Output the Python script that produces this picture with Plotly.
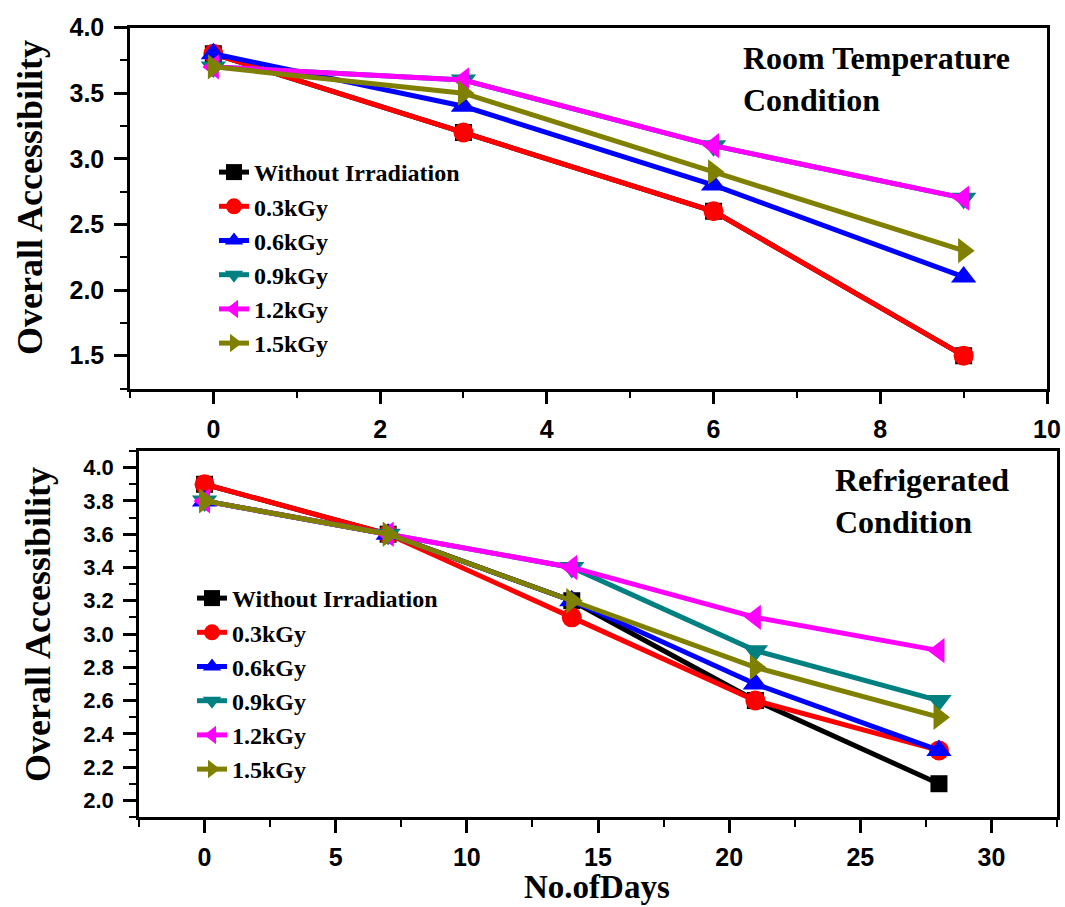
import plotly.graph_objects as go

# ---------------- data ----------------
series_names = ["Without Irradiation", "0.3kGy", "0.6kGy", "0.9kGy", "1.2kGy", "1.5kGy"]
series_colors = ["#000000", "#FF0000", "#0000FF", "#008080", "#FF00FF", "#808000"]
series_symbols = ["square", "circle", "triangle-up", "triangle-down", "triangle-left", "triangle-right"]

room_days = [0, 3, 6, 9]
room_without = [3.8, 3.2, 2.6, 1.5]
room_03 = [3.8, 3.2, 2.6, 1.5]
room_06 = [3.8, 3.4, 2.8, 2.1]
room_09 = [3.7, 3.6, 3.1, 2.7]
room_12 = [3.7, 3.6, 3.1, 2.7]
room_15 = [3.7, 3.5, 2.9, 2.3]

fridge_days = [0, 7, 14, 21, 28]
fridge_without = [3.9, 3.6, 3.2, 2.6, 2.1]
fridge_03 = [3.9, 3.6, 3.1, 2.6, 2.3]
fridge_06 = [3.8, 3.6, 3.2, 2.7, 2.3]
fridge_09 = [3.8, 3.6, 3.4, 2.9, 2.6]
fridge_12 = [3.8, 3.6, 3.4, 3.1, 2.9]
fridge_15 = [3.8, 3.6, 3.2, 2.8, 2.5]

room_values = [room_without, room_03, room_06, room_09, room_12, room_15]
fridge_values = [fridge_without, fridge_03, fridge_06, fridge_09, fridge_12, fridge_15]

# ---------------- figure ----------------
W, H = 1065, 907
SERIF = "Liberation Serif"
SANS = "Liberation Sans"

def px_x(p):
    return p / W

def px_y(p):
    return 1 - p / H

fig = go.Figure()

marker_sizes = [17, 20, 22, 22, 22, 22]

for i, name in enumerate(series_names):
    fig.add_trace(go.Scatter(
        x=room_days, y=room_values[i], name=name, mode="lines+markers",
        line=dict(color=series_colors[i], width=5),
        marker=dict(symbol=series_symbols[i], size=marker_sizes[i], color=series_colors[i]),
        xaxis="x", yaxis="y", legend="legend",
    ))
for i, name in enumerate(series_names):
    fig.add_trace(go.Scatter(
        x=fridge_days, y=fridge_values[i], name=name, mode="lines+markers",
        line=dict(color=series_colors[i], width=5),
        marker=dict(symbol=series_symbols[i], size=marker_sizes[i], color=series_colors[i]),
        xaxis="x2", yaxis="y2", legend="legend2",
    ))

common_axis = dict(
    showline=True, linecolor="black", linewidth=2.5, mirror=True,
    ticks="outside", ticklen=13, tickwidth=2.5, tickcolor="black",
    showgrid=False, zeroline=False,
)

fig.update_layout(
    width=W, height=H,
    paper_bgcolor="white", plot_bgcolor="white",
    margin=dict(l=0, r=0, t=0, b=0, autoexpand=False),
    showlegend=True,
    xaxis=dict(
        **common_axis, domain=[px_x(130), px_x(1047)], anchor="y",
        range=[-1, 10], tickmode="linear", tick0=0, dtick=2,
        minor=dict(ticks="outside", ticklen=7, tickwidth=2, tickcolor="black", dtick=1, tick0=0),
        tickfont=dict(family=SANS, size=25, color="black", weight="bold"),
        ticklabelstandoff=4,
    ),
    yaxis=dict(
        **common_axis, domain=[px_y(388.5), px_y(27.5)], anchor="x",
        range=[1.25, 4.0], tickmode="linear", tick0=1.5, dtick=0.5, tickformat=".1f",
        minor=dict(ticks="outside", ticklen=7, tickwidth=2, tickcolor="black", dtick=0.25, tick0=0),
        tickfont=dict(family=SANS, size=25, color="black", weight="bold"),
        ticklabelstandoff=5,
    ),
    xaxis2=dict(
        **common_axis, domain=[px_x(139), px_x(1057)], anchor="y2",
        range=[-2.5, 32.5], tickmode="linear", tick0=0, dtick=5,
        minor=dict(ticks="outside", ticklen=7, tickwidth=2, tickcolor="black", dtick=2.5, tick0=0),
        tickfont=dict(family=SANS, size=25, color="black", weight="bold"),
        ticklabelstandoff=3,
    ),
    yaxis2=dict(
        **common_axis, domain=[px_y(817), px_y(451)], anchor="x2",
        range=[1.9, 4.1], tickmode="linear", tick0=2.0, dtick=0.2, tickformat=".1f",
        minor=dict(ticks="outside", ticklen=7, tickwidth=2, tickcolor="black", dtick=0.1, tick0=0),
        tickfont=dict(family=SANS, size=22, color="black", weight="bold"),
        ticklabelstandoff=5,
    ),
    legend=dict(
        x=px_x(214), y=px_y(150), xanchor="left", yanchor="top",
        bgcolor="rgba(0,0,0,0)", borderwidth=0,
        font=dict(family=SERIF, size=24, color="black", weight="bold"),
        itemsizing="trace", tracegroupgap=0,
    ),
    legend2=dict(
        x=px_x(192), y=px_y(576), xanchor="left", yanchor="top",
        bgcolor="rgba(0,0,0,0)", borderwidth=0,
        font=dict(family=SERIF, size=24, color="black", weight="bold"),
        itemsizing="trace", tracegroupgap=0,
    ),
)

annots = [
    dict(text="Room Temperature<br>Condition", x=px_x(741), y=px_y(38),
         xanchor="left", yanchor="top", align="left", font=dict(size=32)),
    dict(text="Refrigerated<br>Condition", x=px_x(833), y=px_y(460),
         xanchor="left", yanchor="top", align="left", font=dict(size=32)),
    dict(text="Overall Accessibility", x=px_x(30), y=px_y(198), textangle=-90,
         xanchor="center", yanchor="middle", font=dict(size=36)),
    dict(text="Overall Accessibility", x=px_x(38), y=px_y(625), textangle=-90,
         xanchor="center", yanchor="middle", font=dict(size=36)),
    dict(text="No.ofDays", x=px_x(597), y=px_y(887),
         xanchor="center", yanchor="middle", font=dict(size=33)),
]
for a in annots:
    a["font"].update(family=SERIF, color="black", weight="bold")
    fig.add_annotation(xref="paper", yref="paper", showarrow=False, **a)

fig.write_html(
    "out.html",
    config={"displayModeBar": False},
    post_script="document.body.style.margin='0px';",
)
